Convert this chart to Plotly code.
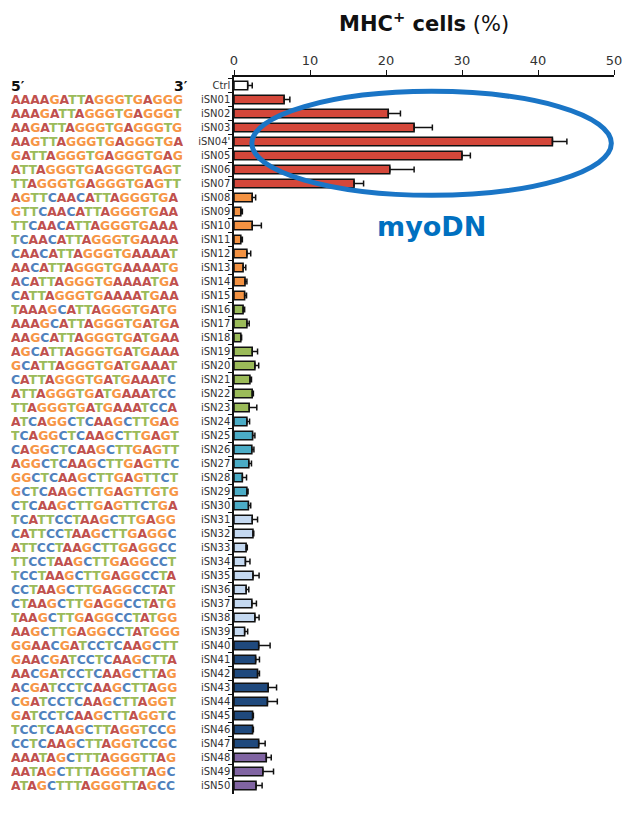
import plotly.graph_objects as go

labels = ["Ctrl", "iSN01", "iSN02", "iSN03", "iSN04'", "iSN05", "iSN06", "iSN07",
          "iSN08", "iSN09", "iSN10", "iSN11", "iSN12", "iSN13", "iSN14", "iSN15",
          "iSN16", "iSN17", "iSN18", "iSN19", "iSN20", "iSN21", "iSN22", "iSN23",
          "iSN24", "iSN25", "iSN26", "iSN27", "iSN28", "iSN29", "iSN30",
          "iSN31", "iSN32", "iSN33", "iSN34", "iSN35", "iSN36", "iSN37", "iSN38", "iSN39",
          "iSN40", "iSN41", "iSN42", "iSN43", "iSN44", "iSN45", "iSN46", "iSN47",
          "iSN48", "iSN49", "iSN50"]

values = [1.8, 6.6, 20.3, 23.7, 41.9, 30.0, 20.5, 15.8,
          2.4, 0.9, 2.4, 0.9, 1.7, 1.2, 1.45, 1.4,
          1.2, 1.7, 0.9, 2.4, 2.75, 2.1, 2.4, 2.0,
          1.7, 2.45, 2.35, 1.95, 1.1, 1.7, 1.9,
          2.4, 2.5, 1.6, 1.5, 2.5, 1.6, 2.35, 2.75, 1.4,
          3.25, 2.85, 3.1, 4.5, 4.4, 2.45, 2.45, 3.25,
          4.25, 3.8, 2.9]

errors = [0.6, 0.75, 1.6, 2.4, 1.9, 1.1, 3.2, 1.25,
          0.45, 0.2, 1.2, 0.2, 0.5, 0.35, 0.25, 0.25,
          0.2, 0.3, 0.1, 0.7, 0.5, 0.2, 0.15, 1.0,
          0.35, 0.3, 0.27, 0.35, 0.55, 0.15, 0.3,
          0.7, 0.1, 0.15, 0.6, 0.8, 0.35, 0.6, 0.55, 0.4,
          1.5, 0.5, 0.25, 1.1, 1.3, 0.1, 0.1, 0.85,
          0.65, 1.4, 0.8]

sequences = ["AAAAGATTAGGGTGAGGG", "AAAGATTAGGGTGAGGGT", "AAGATTAGGGTGAGGGTG",
             "AAGTTAGGGTGAGGGTGA", "GATTAGGGTGAGGGTGAG", "ATTAGGGTGAGGGTGAGT",
             "TTAGGGTGAGGGTGAGTT", "AGTTCAACATTAGGGTGA", "GTTCAACATTAGGGTGAA",
             "TTCAACATTAGGGTGAAA", "TCAACATTAGGGTGAAAA", "CAACATTAGGGTGAAAAT",
             "AACATTAGGGTGAAAATG", "ACATTAGGGTGAAAATGA", "CATTAGGGTGAAAATGAA",
             "TAAAGCATTAGGGTGATG", "AAAGCATTAGGGTGATGA", "AAGCATTAGGGTGATGAA",
             "AGCATTAGGGTGATGAAA", "GCATTAGGGTGATGAAAT", "CATTAGGGTGATGAAATC",
             "ATTAGGGTGATGAAATCC", "TTAGGGTGATGAAATCCA", "ATCAGGCTCAAGCTTGAG",
             "TCAGGCTCAAGCTTGAGT", "CAGGCTCAAGCTTGAGTT", "AGGCTCAAGCTTGAGTTC",
             "GGCTCAAGCTTGAGTTCT", "GCTCAAGCTTGAGTTGTG", "CTCAAGCTTGAGTTCTGA",
             "TCATTCCTAAGCTTGAGG", "CATTCCTAAGCTTGAGGC", "ATTCCTAAGCTTGAGGCC",
             "TTCCTAAGCTTGAGGCCT", "TCCTAAGCTTGAGGCCTA", "CCTAAGCTTGAGGCCTAT",
             "CTAAGCTTGAGGCCTATG", "TAAGCTTGAGGCCTATGG", "AAGCTTGAGGCCTATGGG",
             "GGAACGATCCTCAAGCTT", "GAACGATCCTCAAGCTTA", "AACGATCCTCAAGCTTAG",
             "ACGATCCTCAAGCTTAGG", "CGATCCTCAAGCTTAGGT", "GATCCTCAAGCTTAGGTC",
             "TCCTCAAGCTTAGGTCCG", "CCTCAAGCTTAGGTCCGC", "AAATAGCTTTAGGGTTAG",
             "AATAGCTTTAGGGTTAGC", "ATAGCTTTAGGGTTAGCC"]

groups = ["ctrl"] + ["red"] * 7 + ["orange"] * 8 + ["green"] * 8 + ["teal"] * 7 + \
         ["light"] * 9 + ["navy"] * 8 + ["purple"] * 3
group_colors = {"ctrl": "#FFFFFF", "red": "#D4473A", "orange": "#F39242",
                "green": "#9BBB59", "teal": "#4BACC6", "light": "#C5D9F1",
                "navy": "#1F497D", "purple": "#8064A2"}
base_colors = {"A": "#C0504D", "G": "#F79646", "T": "#9BBB59", "C": "#4F81BD"}

fig = go.Figure()
fig.add_trace(go.Bar(
    x=values, y=labels, orientation="h",
    marker=dict(color=[group_colors[g] for g in groups],
                line=dict(color="#111111", width=1.5)),
    error_x=dict(type="data", symmetric=False, array=errors,
                 arrayminus=[0] * len(errors), color="#111111",
                 thickness=1.5, width=3),
    width=0.6,
))

annotations = []
for lab, seq in zip(labels[1:], sequences):
    txt = "".join(f"<span style='color:{base_colors[b]}'>{b}</span>" for b in seq)
    annotations.append(dict(x=-0.592, xref="paper", y=lab, yref="y", xanchor="left",
                            yanchor="middle", showarrow=False, text="<b>" + txt + "</b>",
                            height=13, valign="middle",
                            font=dict(family="DejaVu Sans", size=12.4)))

annotations.append(dict(x=-0.592, xref="paper", y="Ctrl", yref="y", xanchor="left",
                        yanchor="middle", showarrow=False, text="<b>5′</b>",
                        height=13, valign="middle",
                        font=dict(family="DejaVu Sans", size=14, color="#111111")))
annotations.append(dict(x=-0.117, xref="paper", y="Ctrl", yref="y", xanchor="right",
                        yanchor="middle", showarrow=False, text="<b>3′</b>",
                        height=13, valign="middle",
                        font=dict(family="DejaVu Sans", size=14, color="#111111")))
annotations.append(dict(x=0.5, xref="paper", y=1.0, yref="paper", yanchor="middle",
                        yshift=55, showarrow=False,
                        text="<b>MHC<sup>+</sup> cells</b> (%)",
                        font=dict(family="DejaVu Sans", size=21, color="#111111")))
annotations.append(dict(x=0.521, xref="paper", y=0.792, yref="paper", yanchor="middle",
                        showarrow=False, text="<b>myoDN</b>",
                        font=dict(family="DejaVu Sans", size=27, color="#0070C0")))

# page body has an 8px margin: figure drawn from (8, 8)
fig.update_layout(
    width=632, height=806,
    margin=dict(l=226, r=26, t=69, b=20, autoexpand=False),
    plot_bgcolor="white", paper_bgcolor="white",
    showlegend=False,
    annotations=annotations,
    shapes=[dict(type="circle", xref="paper", yref="paper",
                 x0=0.047, x1=0.993, y0=0.835, y1=0.980,
                 line=dict(color="#1A75C6", width=5))],
    font=dict(family="DejaVu Sans", color="#333333"),
)
fig.update_xaxes(side="top", range=[0, 50], dtick=10, showline=True, linecolor="#111111",
                 linewidth=1.5, ticks="outside", ticklen=5, tickcolor="#111111",
                 showgrid=False, zeroline=False, automargin=False,
                 tickfont=dict(size=13, color="#333333"))
fig.update_yaxes(autorange="reversed", showline=True, linecolor="#111111", linewidth=1.5,
                 ticks="outside", ticklen=4, tickcolor="#111111", tickson="boundaries",
                 showgrid=False, automargin=False, tickfont=dict(size=10, color="#333333"))

fig.write_html("out.html")
